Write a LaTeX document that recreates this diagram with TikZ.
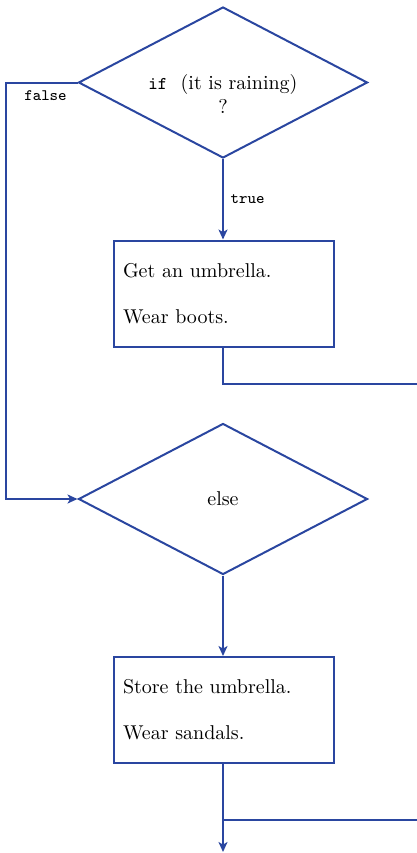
\documentclass[tikz,border=0pt]{standalone}
\usetikzlibrary{shapes.geometric,arrows.meta,positioning}
\definecolor{flowblue}{RGB}{42,70,160}
\tikzset{
  flow/.style={draw=flowblue,line width=1pt},
  decision/.style={flow,diamond,aspect=2,inner sep=0pt,minimum width=144.5pt,minimum height=75.5pt},
  stepbox/.style={flow,rectangle,align=left,text width=101pt,inner xsep=4.5pt,minimum height=53pt},
  arr/.style={flow,-{Stealth[length=5pt,width=4.5pt,inset=1.3pt]}},
  cond/.style={font=\ttfamily\footnotesize}
}
\begin{document}
\begin{tikzpicture}[x=0.5pt,y=-0.5pt]
\useasboundingbox (0,0) rectangle (417,853);
% if / else tests
\node[decision] (q1) at (223,82.5) {};
\node[align=center] (q1text) at (223,94) {\texttt{\small if}\ \ (it is raining)\\?};
\node[decision] (q2) at (223,499) {else};
% the two blocks
\node[stepbox] (box1) at (224,293.5) {Get an umbrella.\\[11pt]Wear boots.};
\node[stepbox] (box2) at (224,710) {Store the umbrella.\\[11pt]Wear sandals.};
\coordinate (exit1) at (417,384);
\coordinate (join2) at (223,820);
\coordinate (exit2) at (417,820);
\coordinate (done) at (223,852);
% connectors
\draw[arr] (q1.south) -- node[right,cond] {true} (q1.south |- box1.north);
\draw[arr] (q1.west) -- node[below,cond,xshift=2pt] {false} ++(-72,0) |- (q2.west);
\draw[flow] (q1.south |- box1.south) |- (exit1);
\draw[arr] (q2.south) -- (q2.south |- box2.north);
\draw[arr] (q2.south |- box2.south) -- (done);
\draw[flow] (join2) -- (exit2);
\end{tikzpicture}
\end{document}
